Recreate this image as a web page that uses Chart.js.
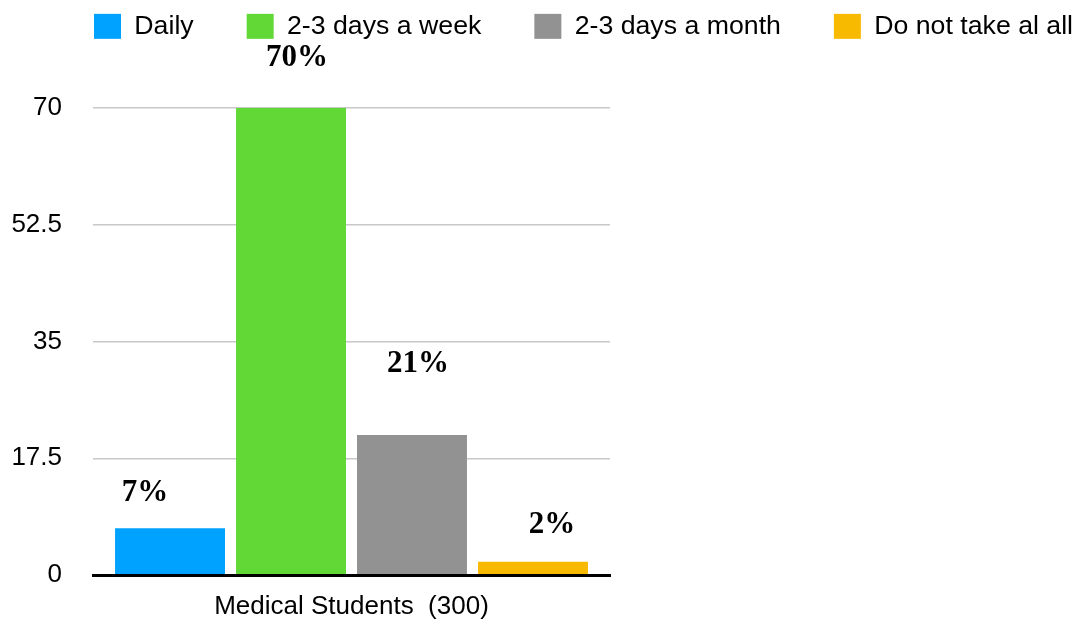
<!DOCTYPE html>
<html>
<head>
<meta charset="utf-8">
<script src="https://cdn.jsdelivr.net/npm/chart.js@4.4.1/dist/chart.umd.min.js"></script>
<style>
  html, body { margin: 0; padding: 0; background: #fff; }
  #wrap { width: 1089px; height: 624px; }
</style>
</head>
<body>
<div id="wrap"><canvas id="chart" width="1089" height="624"></canvas></div>
<script>
// data
const categories = ['Medical Students  (300)'];
const seriesNames = ['Daily', '2-3 days a week', '2-3 days a month', 'Do not take al all'];
const seriesValues = [7, 70, 21, 2];
const yMin = 0;
const yMax = 70;
const yStep = 17.5;

// look
const seriesColors = ['#00A2FF', '#61D836', '#929292', '#F8BA00'];
// the % labels are hand placed in the original: pixel nudge from the bar top centre
const labelNudge = [[-25, -35], [6, -50], [6, -71], [19, -37]];

Chart.defaults.color = '#000';
Chart.defaults.font.family = '"Liberation Sans", Arial, Helvetica, sans-serif';

// legend sits high with a big gap below it, first box at x=94
const legendTweak = {
  id: 'legendTweak',
  beforeInit(chart) {
    const legend = chart.legend;
    const fit = legend.fit;
    legend.fit = function () {
      fit.call(this);
      this.height = 108;
    };
    const draw = legend.draw;
    legend.draw = function () {
      const pad = this.options.labels.padding;
      const x0 = (this.left + pad + this.right - this.lineWidths[0]) / 2;
      const ctx = this.ctx;
      ctx.save();
      ctx.translate(94 - x0, 13 - (this.top + pad));
      draw.call(this);
      ctx.restore();
    };
  }
};

const barLabels = {
  id: 'barLabels',
  afterDatasetsDraw(chart) {
    const ctx = chart.ctx;
    ctx.save();
    ctx.font = 'bold 31px "Liberation Serif", "Times New Roman", serif';
    ctx.fillStyle = '#000';
    ctx.textAlign = 'center';
    ctx.textBaseline = 'middle';
    chart.data.datasets.forEach((ds, i) => {
      const bar = chart.getDatasetMeta(i).data[0];
      const [dx, dy] = labelNudge[i];
      ctx.fillText(ds.data[0] + '%', bar.x + dx, bar.y + dy);
    });
    ctx.restore();
  }
};

const ctx = document.getElementById('chart').getContext('2d');
const chart = new Chart(ctx, {
  type: 'bar',
  data: {
    labels: categories,
    datasets: seriesNames.map((name, i) => ({
      label: name,
      data: [seriesValues[i]],
      backgroundColor: seriesColors[i],
      borderWidth: 0,
      categoryPercentage: 0.936,
      barPercentage: 0.909,
    })),
  },
  options: {
    responsive: false,
    devicePixelRatio: 1,
    animation: false,
    layout: { padding: 0 },
    plugins: {
      tooltip: { enabled: false },
      legend: {
        position: 'top',
        labels: {
          boxWidth: 27,
          boxHeight: 25,
          padding: 53,
          color: '#000',
          font: { size: 26.7 },
        },
      },
    },
    scales: {
      x: {
        grid: { display: false, drawTicks: false },
        border: { display: true, color: '#000', width: 3, z: 1 },
        ticks: { font: { size: 26 }, padding: 16 },
        afterFit(scale) { scale.height = 49; },
      },
      y: {
        min: yMin,
        max: yMax,
        ticks: { stepSize: yStep, font: { size: 26 }, padding: 31 },
        grid: { color: '#c8c8c8', lineWidth: 1.5, drawTicks: false },
        border: { display: false },
        afterFit(scale) { scale.width = 93; },
      },
      spacer: {
        position: 'right',
        display: true,
        grid: { display: false },
        border: { display: false },
        ticks: { display: false },
        afterFit(scale) { scale.width = 479; },
      },
    },
  },
  plugins: [legendTweak, barLabels],
});
</script>
</body>
</html>
